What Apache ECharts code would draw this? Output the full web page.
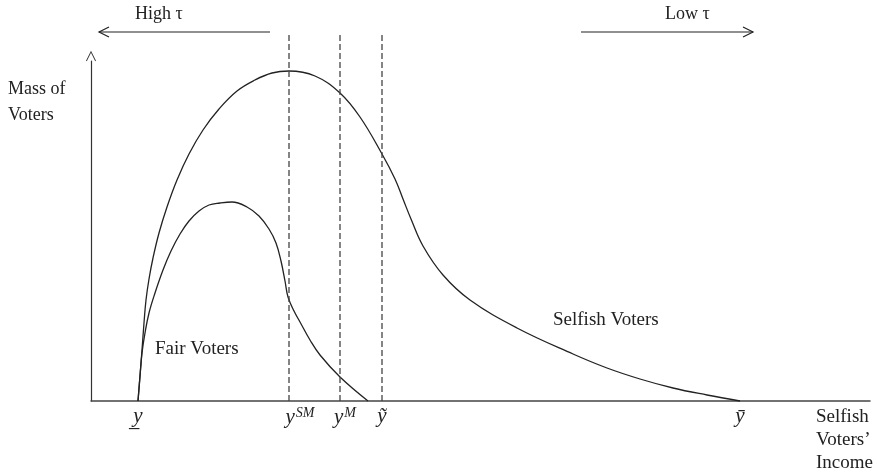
<!DOCTYPE html>
<html>
<head>
<meta charset="UTF-8">
<script src="https://cdn.jsdelivr.net/npm/echarts@6/dist/echarts.min.js"></script>
<style>
  html, body { margin: 0; padding: 0; background: #fff; }
  #chart { width: 878px; height: 474px; }
</style>
</head>
<body>
<div id="chart"></div>
<script>
// income / mass values (arbitrary units)
const selfishIncome = [47, 49, 51, 53, 55, 58, 62, 68, 76, 86, 98, 112, 128, 146, 164, 181, 198, 224, 249, 269, 291, 304, 312, 320, 332, 352, 379, 426, 482, 516, 549, 582, 616, 649];
const selfishMass   = [0, 25, 51, 78, 101, 122, 143, 168, 194, 221, 247, 271, 292, 310, 321, 328, 330, 325, 308, 284, 247, 222, 202, 182, 155, 126, 101, 73, 47, 33, 22, 13, 6, 0];
const fairIncome = [47, 49, 51, 54, 58, 64, 72, 80, 89, 98, 108, 118, 129, 141, 156, 168, 178, 185, 190, 194, 197, 203, 209, 219, 229, 249, 277];
const fairMass   = [0, 25, 48, 68, 88, 108, 131, 150, 167, 180, 190, 196, 198, 199, 194, 185, 172, 158, 140, 120, 104, 90, 79, 61, 46, 24, 0];

// thresholds on the income axis
const yLow = 47, ySM = 198, yM = 249, yTilde = 291, yBar = 649;
const dashedAt = [ySM, yM, yTilde];
const dashedTop = 369;
const tickValues = [yLow, ySM, yM, yTilde, yBar];

const serif = 'Liberation Serif';
const ink = '#222';

const zip = (xs, ys) => xs.map((x, i) => [x, ys[i]]);

const chart = echarts.init(document.getElementById('chart'), null, { renderer: 'canvas' });

const curve = (name, xs, ys) => ({
  name: name,
  type: 'line',
  data: zip(xs, ys),
  smooth: 0.4,
  showSymbol: false,
  clip: false,
  lineStyle: { color: ink, width: 1.3 }
});

// vertical dashed guides, they run above the plot up to the arrows
const guides = dashedAt.map(x => ({
  type: 'line',
  data: [[x, 0], [x, dashedTop]],
  showSymbol: false,
  clip: false,
  silent: true,
  lineStyle: { color: '#444', width: 1.3, type: [6, 3] }
}));

chart.setOption({
  animation: false,
  grid: { left: 91, right: 8, top: 61, bottom: 73 },
  xAxis: {
    type: 'value', min: 0, max: 779,
    splitLine: { show: false },
    axisTick: { show: false },
    axisLine: { lineStyle: { color: '#444', width: 1.5 } },
    axisLabel: {
      customValues: tickValues,
      margin: 5,
      fontFamily: serif,
      color: ink,
      formatter: function (v) {
        if (v === yLow) return '{it|y\u0332}';
        if (v === ySM) return '{sp1|}{it|y}{sup|SM}';
        if (v === yM) return '{sp2|}{it|y}{sup|M}';
        if (v === yTilde) return '{it|\u1EF9}';
        if (v === yBar) return '{it|\u0233}';
        return '';
      },
      rich: {
        it: { fontFamily: serif, fontStyle: 'italic', fontSize: 21, color: ink, verticalAlign: 'bottom' },
        sup: { fontFamily: serif, fontStyle: 'italic', fontSize: 14, color: ink, verticalAlign: 'top', padding: [0, 0, 8, 1] },
        sp1: { width: 22 },
        sp2: { width: 10 }
      }
    }
  },
  yAxis: {
    type: 'value', min: 0, max: 340,
    splitLine: { show: false },
    axisTick: { show: false },
    axisLabel: { show: false },
    axisLine: {
      show: true,
      symbol: ['none', 'path://M0,10 L5,0 L10,10 L9.2,10.4 L5,2 L0.8,10.4 Z'],
      symbolSize: [10, 12],
      symbolOffset: [0, 5],
      lineStyle: { color: '#333', width: 1.2 }
    }
  },
  series: [
    curve('Selfish Voters', selfishIncome, selfishMass),
    curve('Fair Voters', fairIncome, fairMass)
  ].concat(guides),
  graphic: [
    // direction arrows at the top
    { type: 'line', shape: { x1: 99, y1: 32, x2: 270, y2: 32 }, style: { stroke: ink, lineWidth: 1.2 } },
    { type: 'polyline', shape: { points: [[109, 27], [99, 32], [109, 37]] }, style: { stroke: ink, lineWidth: 1.2, fill: null } },
    { type: 'text', left: 135, top: 5, style: { text: 'High \u03C4', font: '18px "Liberation Serif"', fill: ink } },
    { type: 'line', shape: { x1: 581, y1: 32, x2: 753, y2: 32 }, style: { stroke: ink, lineWidth: 1.2 } },
    { type: 'polyline', shape: { points: [[743, 27], [753, 32], [743, 37]] }, style: { stroke: ink, lineWidth: 1.2, fill: null } },
    { type: 'text', left: 665, top: 5, style: { text: 'Low \u03C4', font: '18px "Liberation Serif"', fill: ink } },
    // axis titles
    { type: 'text', left: 8, top: 76, style: { text: 'Mass of\nVoters', font: '18px "Liberation Serif"', lineHeight: 26, fill: ink } },
    { type: 'text', left: 816, top: 406, style: { text: 'Selfish\nVoters\u2019\nIncome', font: '19px "Liberation Serif"', lineHeight: 23, fill: ink } },
    // curve names
    { type: 'text', left: 155, top: 340, style: { text: 'Fair Voters', font: '19px "Liberation Serif"', fill: ink } },
    { type: 'text', left: 553, top: 311, style: { text: 'Selfish Voters', font: '19px "Liberation Serif"', fill: ink } }
  ]
});
</script>
</body>
</html>
